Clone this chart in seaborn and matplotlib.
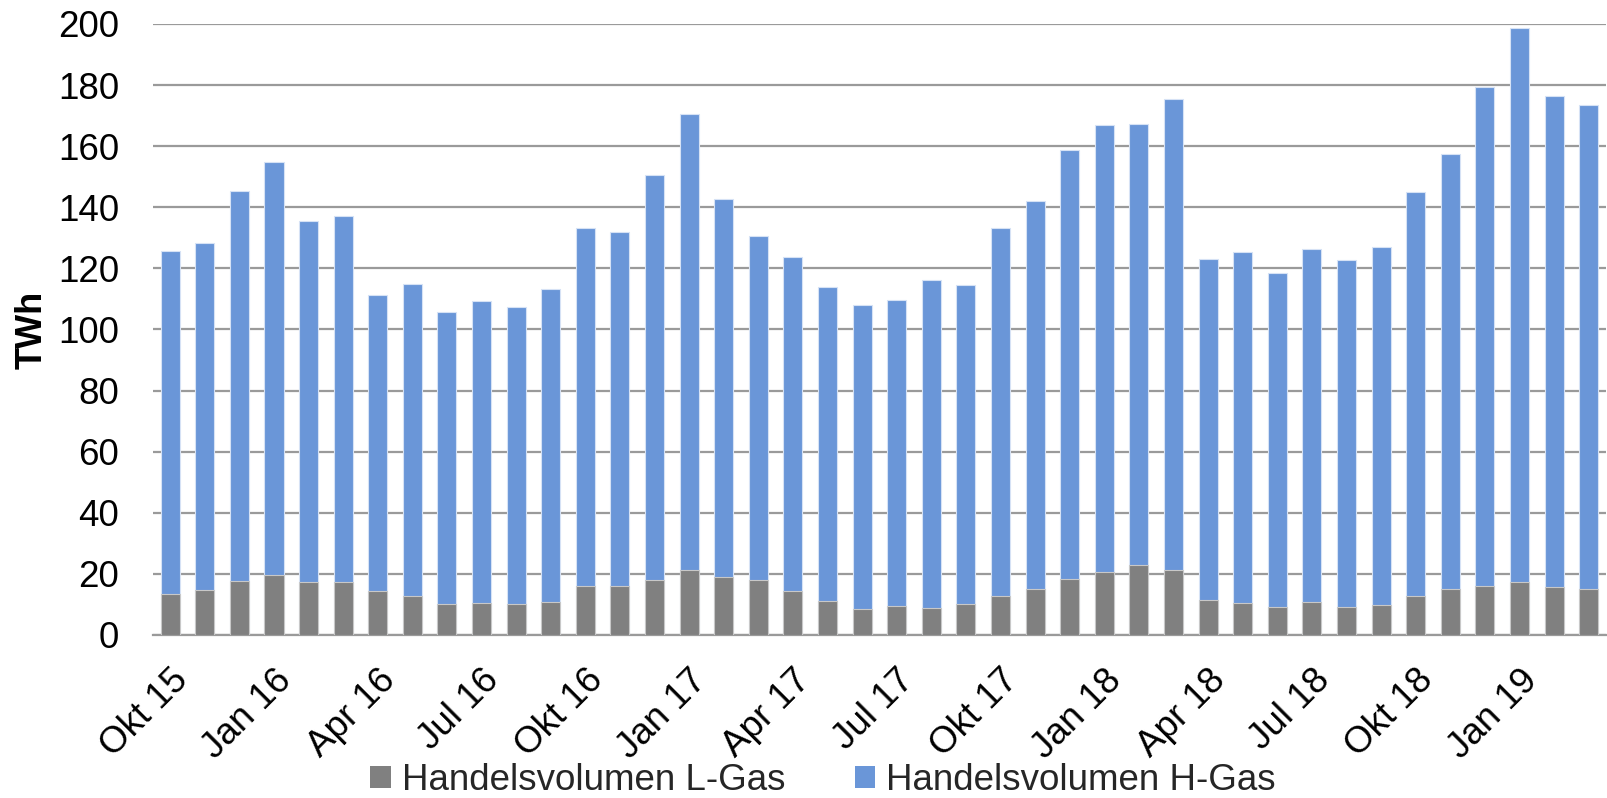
import matplotlib
matplotlib.use("Agg")
import matplotlib.pyplot as plt
import seaborn as sns
import pandas as pd
import numpy as np
from matplotlib.patches import Patch

months = ["Okt 15", "Nov 15", "Dez 15", "Jan 16", "Feb 16", "Mär 16", "Apr 16", "Mai 16", "Jun 16",
          "Jul 16", "Aug 16", "Sep 16", "Okt 16", "Nov 16", "Dez 16", "Jan 17", "Feb 17", "Mär 17",
          "Apr 17", "Mai 17", "Jun 17", "Jul 17", "Aug 17", "Sep 17", "Okt 17", "Nov 17", "Dez 17",
          "Jan 18", "Feb 18", "Mär 18", "Apr 18", "Mai 18", "Jun 18", "Jul 18", "Aug 18", "Sep 18",
          "Okt 18", "Nov 18", "Dez 18", "Jan 19", "Feb 19", "Mär 19"]

l_gas = [13.5, 14.8, 17.7, 19.7, 17.4, 17.4, 14.5, 12.6, 10.3, 10.6, 10.3, 10.9,
         16.0, 16.0, 18.1, 21.3, 18.9, 18.1, 14.4, 11.2, 8.6, 9.5, 8.9, 10.1,
         12.6, 14.9, 18.4, 20.6, 22.9, 21.3, 11.6, 10.6, 9.3, 10.9, 9.0, 9.9,
         12.9, 15.1, 16.0, 17.4, 15.8, 15.1]

h_gas = [112.3, 113.5, 127.7, 135.1, 118.2, 119.6, 96.9, 102.2, 95.3, 98.6, 96.9, 102.4,
         117.3, 116.0, 132.4, 149.3, 123.8, 112.4, 109.3, 102.6, 99.4, 100.0, 107.4, 104.3,
         120.7, 127.0, 140.5, 146.3, 144.4, 154.2, 111.4, 114.8, 109.1, 115.5, 113.6, 117.2,
         132.0, 142.4, 163.3, 181.4, 160.5, 158.5]

label_l = "Handelsvolumen L-Gas"
label_h = "Handelsvolumen H-Gas"
y_label = "TWh"

c_l = "#808080"
c_h = "#6A96D8"

sns.set_theme(style="white")
plt.rcParams["font.family"] = ["Liberation Sans", "DejaVu Sans"]

df = pd.DataFrame({"Monat": months, "L": l_gas, "H": h_gas})
df["Total"] = df["L"] + df["H"]

fig = plt.figure(figsize=(16.08, 7.98), dpi=100)
ax = fig.add_axes([0.0951, 0.2043, 0.9036, 0.7657])

sns.barplot(data=df, x="Monat", y="Total", color=c_h, saturation=1, width=0.55,
            edgecolor="#D6E2F5", linewidth=0.8, ax=ax, zorder=3)
sns.barplot(data=df, x="Monat", y="L", color=c_l, saturation=1, width=0.55,
            edgecolor="#C8C8C8", linewidth=0.8, ax=ax, zorder=4)

ax.set_ylim(0, 200)
ax.set_xlim(-0.5, len(months) - 0.5)
ax.set_yticks(np.arange(0, 201, 20))
ax.yaxis.grid(True, color="#9A9A9A", linewidth=1.6, zorder=0)
ax.set_axisbelow(True)
for s in ["top", "right", "left"]:
    ax.spines[s].set_visible(False)
ax.spines["bottom"].set_color("#9A9A9A")
ax.spines["bottom"].set_linewidth(1.6)

ax.set_xticks(range(0, len(months), 3))
ax.set_xticklabels(months[::3], rotation=45, ha="right", va="top",
                   rotation_mode="anchor", fontsize=26.5, color="black")
ax.tick_params(axis="x", length=0, pad=20)
ax.tick_params(axis="y", length=0, pad=24.5, labelsize=26.5, labelcolor="black")
ax.set_xlabel("")
ax.set_ylabel(y_label, fontsize=26, fontweight="bold", color="black")
ax.yaxis.set_label_coords(-0.071, 0.5)

handles = [Patch(facecolor=c_l, edgecolor="none"), Patch(facecolor=c_h, edgecolor="none")]
fig.legend(handles, [label_l, label_h], loc="center", bbox_to_anchor=(0.512, 0.022),
           ncol=2, frameon=False, fontsize=26.5, handlelength=0.55, handleheight=0.55,
           handletextpad=0.3, columnspacing=1.9, borderpad=0.1)

fig.savefig("out.png", dpi=100)
